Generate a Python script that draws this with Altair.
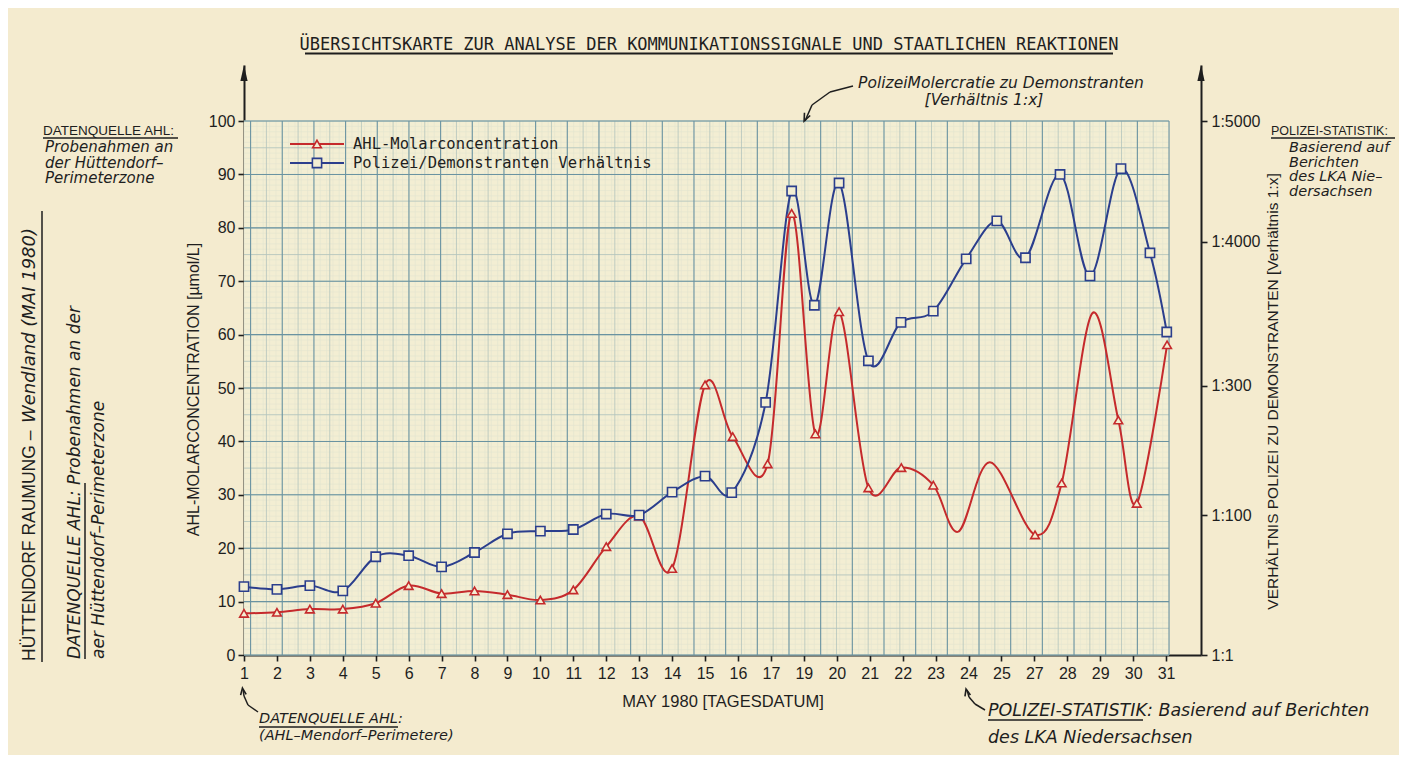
import altair as alt
import pandas as pd

# ---------------- data ----------------
X_LABELS = ['1', '2', '3', '4', '5', '6', '7', '8', '9', '10', '11', '12', '13', '14', '15', '16', '17',
            '19', '20', '21', '22', '23', '24', '25', '27', '28', '29', '30', '31']
Y_TICKS = [0, 10, 20, 30, 40, 50, 60, 70, 80, 90, 100]
R_TICK_POS = [0, 26.2, 50.4, 77.4, 100]
R_TICK_LABELS = ['1:1', '1:100', '1:300', '1:4000', '1:5000']

SERIES = ['AHL-Molarconcentration', 'Polizei/Demonstranten Verhältnis']

# x position on the day axis (index of tick), value in axis units
RED_POS = [0, 1, 2, 3, 4, 5, 6, 7, 8, 9, 10, 11, 12, 13, 14,
           14.84, 15.9, 16.63, 17.35, 18.07, 18.96, 19.96, 20.93,
           21.69, 22.65, 24.02, 24.83, 25.76, 26.55, 27.11, 28.03]
RED_VAL = [7.8, 8.0, 8.6, 8.6, 9.7, 13.0, 11.5, 12.0, 11.3, 10.3, 12.2, 20.3, 26.0, 16.2, 50.6,
           40.9, 35.8, 82.7, 41.4, 64.3, 31.3, 35.1, 31.8,
           23.1, 36.1, 22.5, 32.2, 64.0, 44.0, 28.4, 58.1]
RED_MARK = [1] * 23 + [0, 0, 1, 1, 0, 1, 1, 1]

BLUE_POS = [0, 1, 2, 3, 4, 5, 6, 7, 8, 9, 10, 11, 12, 13, 14,
            14.81, 15.84, 16.63, 17.32, 18.07, 18.96, 19.95, 20.93,
            21.93, 22.86, 23.73, 24.78, 25.69, 26.63, 27.51, 28.02]
BLUE_VAL = [12.8, 12.3, 13.0, 12.0, 18.4, 18.6, 16.5, 19.2, 22.7, 23.2, 23.5, 26.4, 26.2, 30.5, 33.5,
            30.4, 47.3, 86.9, 65.5, 88.4, 55.1, 62.3, 64.4,
            74.2, 81.3, 74.4, 90.0, 71.0, 91.1, 75.3, 60.5]

TITLE = 'ÜBERSICHTSKARTE ZUR ANALYSE DER KOMMUNIKATIONSSIGNALE UND STAATLICHEN REAKTIONEN'
X_TITLE = 'MAY 1980 [TAGESDATUM]'
Y_TITLE = 'AHL-MOLARCONCENTRATION [µmol/L]'
R_TITLE = 'VERHÄLTNIS POLIZEI ZU DEMONSTRANTEN [Verhältnis 1:x]'
NOTE_TOP = ['PolizeiMolercratie zu Demonstranten', '[Verhältnis 1:x]']
NOTE_TL_HEAD = 'DATENQUELLE AHL:'
NOTE_TL = ['Probenahmen an', 'der Hüttendorf–', 'Perimeterzone']
NOTE_V1 = ['HÜTTENDORF RAUMUNG – ', 'Wendland (MAI 1980)']
NOTE_V2 = ['DATENQUELLE AHL: Probenahmen an der', 'aer Hüttendorf–Perimeterzone']
NOTE_R_HEAD = 'POLIZEI-STATISTIK:'
NOTE_R = ['Basierend auf', 'Berichten', 'des LKA Nie–', 'dersachsen']
NOTE_BL = ['DATENQUELLE AHL:', '(AHL–Mendorf–Perimetere)']
NOTE_BR = ['POLIZEI-STATISTIK: Basierend auf Berichten', 'des LKA Niedersachsen']

# ---------------- style ----------------
PAPER = '#f4ebcf'
GRIDBG = '#f3eed3'
INK = '#1e1e1e'
RED = '#c52a2c'
BLUE = '#2b3e8d'
SANS = 'Liberation Sans'
MONO = 'DejaVu Sans Mono'
HAND = 'DejaVu Sans'

W, H = 957, 590
X_MAX, Y_MAX = 29.06, 110.5
xs = alt.Scale(domain=[0, X_MAX], nice=False, zero=False)
ys = alt.Scale(domain=[0, Y_MAX], nice=False, zero=False)


def px(v):
    return v / X_MAX * W


def py(v):
    return H - v / Y_MAX * H


GRID_R, GRID_T = 28.09, 100

one = pd.DataFrame({'k': [0]})


def T(s, x, y, size, font=HAND, style='normal', angle=0, align='left', baseline='alphabetic', color=INK):
    return alt.Chart(one).mark_text(text=s, font=font, fontSize=size, fontStyle=style, angle=angle,
                                    align=align, baseline=baseline, color=color).encode(
        x=alt.value(x), y=alt.value(y))


def R(x1, y1, x2, y2, w=1.5, color=INK):
    return alt.Chart(one).mark_rule(color=color, strokeWidth=w).encode(
        x=alt.value(x1), y=alt.value(y1), x2=alt.value(x2), y2=alt.value(y2))


def HEAD(x, y, angle, size=64):
    return alt.Chart(one).mark_point(shape='M-0.7,0.7L0,-1L0.7,0.7', filled=False, color=INK,
                                     strokeWidth=1.6, size=size, angle=angle, opacity=1).encode(
        x=alt.value(x), y=alt.value(y))


def AXHEAD(x, y):
    return alt.Chart(one).mark_point(shape='M-0.45,1L0,-1L0.45,1Z', filled=True, color=INK,
                                     size=256, opacity=1).encode(x=alt.value(x), y=alt.value(y))


def LPT(x, y, shape, color, size):
    return alt.Chart(one).mark_point(shape=shape, filled=True, fill=GRIDBG, stroke=color,
                                     strokeWidth=1.6, size=size, opacity=1).encode(
        x=alt.value(x), y=alt.value(y))


# ---------------- axes ----------------
x_expr = '[' + ','.join("'%s'" % l for l in X_LABELS) + '][datum.value]'
r_expr = ('[' + ','.join("'%s'" % l for l in R_TICK_LABELS) + '][indexof([' +
          ','.join(str(v) for v in R_TICK_POS) + '], datum.value)]')

x_axis = alt.Axis(orient='bottom', values=list(range(len(X_LABELS))), labelExpr=x_expr, grid=False,
                  labelFlush=False, labelOverlap=False,
                  labelFontSize=16, labelPadding=4, tickSize=6,
                  title=X_TITLE, titleFontSize=16.5, titlePadding=12)
y_left = alt.Axis(orient='left', values=Y_TICKS, grid=False, labelFlush=False, labelOverlap=False,
                  labelFontSize=16, labelPadding=3, tickSize=6,
                  title=Y_TITLE, titleFontSize=16, titleAngle=270, titleX=-51, titleY=324,
                  titleBaseline='middle', titleAlign='center')
y_right = alt.Axis(orient='right', values=R_TICK_POS, labelExpr=r_expr, grid=False,
                   labelFlush=False, labelOverlap=False,
                   labelFontSize=16, labelPadding=4, tickSize=6,
                   title=R_TITLE, titleFontSize=15.5, titleAngle=270, titleX=71, titleY=326,
                   titleBaseline='middle', titleAlign='center')

# ---------------- graph paper ----------------
grid_bg = alt.Chart(one).mark_rect(color=GRIDBG).encode(
    x=alt.value(0), x2=alt.value(px(GRID_R)), y=alt.value(py(GRID_T)), y2=alt.value(H))


def hgrid(step, color, w):
    return alt.Chart(alt.sequence(0, 100.01, step, as_='v')).mark_rule(color=color, strokeWidth=w).encode(
        y=alt.Y('v:Q', scale=ys, axis=None),
        x=alt.value(0), x2=alt.value(px(GRID_R)))


def vgrid(start, step, color, w, axis=None):
    return alt.Chart(alt.sequence(start, 28.1, step, as_='v')).mark_rule(color=color, strokeWidth=w).encode(
        x=alt.X('v:Q', scale=xs, axis=axis),
        y=alt.value(py(GRID_T)), y2=alt.value(H))


MAJ = '#6a93a1'
MID = '#b3c4bc'
MIN = '#e2e4d0'
grid_layers = [
    hgrid(1, MIN, 0.6), vgrid(0.00766, 0.19234, MIN, 0.6, axis=x_axis),
    hgrid(5, MID, 0.8), vgrid(0.68085, 0.9617, MID, 0.8),
    hgrid(10, MAJ, 1.1), vgrid(0.2, 0.9617, MAJ, 1.1),
]

# ---------------- series ----------------
red_df = pd.DataFrame({'pos': RED_POS, 'val': RED_VAL, 'mark': RED_MARK, 'series': SERIES[0]})
blue_df = pd.DataFrame({'pos': BLUE_POS, 'val': BLUE_VAL, 'series': SERIES[1]})

red_line = alt.Chart(red_df).mark_line(interpolate='cardinal', color=RED, strokeWidth=2).encode(
    x=alt.X('pos:Q', scale=xs, axis=None), y=alt.Y('val:Q', scale=ys, axis=y_left))
blue_line = alt.Chart(blue_df).mark_line(interpolate='cardinal', color=BLUE, strokeWidth=2).encode(
    x=alt.X('pos:Q', scale=xs, axis=None), y=alt.Y('val:Q', scale=ys, axis=y_right))
red_pts = alt.Chart(red_df).transform_filter('datum.mark == 1').mark_point(
    shape='triangle-up', size=75, filled=True, fill=GRIDBG, stroke=RED, strokeWidth=1.6, opacity=1).encode(
    x=alt.X('pos:Q', scale=xs, axis=None), y=alt.Y('val:Q', scale=ys, axis=None))
blue_pts = alt.Chart(blue_df).mark_point(
    shape='square', size=85, filled=True, fill=GRIDBG, stroke=BLUE, strokeWidth=1.6, opacity=1).encode(
    x=alt.X('pos:Q', scale=xs, axis=None), y=alt.Y('val:Q', scale=ys, axis=None))

# ---------------- legend ----------------
legend = [
    R(46, 79, 100, 79, 2, RED), LPT(73, 79, 'triangle-up', RED, 75),
    T(SERIES[0], 109, 79, 15.5, font=MONO, baseline='middle'),
    R(46, 98, 100, 98, 2, BLUE), LPT(73, 98, 'square', BLUE, 85),
    T(SERIES[1], 109, 98, 15.5, font=MONO, baseline='middle'),
]

# ---------------- annotations (pixel offsets from plot origin) ----------------
notes = [
    # title
    T(TITLE, 465, -15, 17, font=MONO, align='center'),
    R(61, -11.5, 869, -11.5, 2),
    # axis arrows
    AXHEAD(0, 8), AXHEAD(W, 8),
    # top annotation
    T(NOTE_TOP[0], 757, 23, 15.5, style='italic', align='center'),
    T(NOTE_TOP[1], 740, 40, 15.5, style='italic', align='center'),
    R(609, 21, 586, 27), R(586, 27, 568, 40), R(568, 40, 561, 56),
    HEAD(562, 52, 205, 81),
    # top-left
    T(NOTE_TL_HEAD, -201, 70, 13.5, font=SANS),
    R(-201, 73, -66, 73, 1.3),
    T(NOTE_TL[0], -199, 87, 15, style='italic'),
    T(NOTE_TL[1], -199, 102.5, 15, style='italic'),
    T(NOTE_TL[2], -199, 118, 15, style='italic'),
    # vertical left texts
    T(NOTE_V1[0], -209, 596, 17.5, font=SANS, angle=270),
    T(NOTE_V1[1], -209, 358, 18, style='italic', angle=270),
    R(-202, 597, -202, 146, 1.5),
    T(NOTE_V2[0], -164, 594, 17, style='italic', angle=270),
    R(-159, 594, -159, 418, 1.5),
    T(NOTE_V2[1], -140, 594, 17, style='italic', angle=270),
    # right side
    T(NOTE_R_HEAD, 1027, 70, 12.5, font=SANS),
    R(1027, 73, 1151, 73, 1.3),
    T(NOTE_R[0], 1045, 87, 14.5, style='italic'),
    T(NOTE_R[1], 1045, 101.5, 14.5, style='italic'),
    T(NOTE_R[2], 1045, 116, 14.5, style='italic'),
    T(NOTE_R[3], 1045, 130.5, 14.5, style='italic'),
    # bottom-left
    R(14, 647, 4, 640), R(4, 640, 0, 631), R(0, 631, -1, 624),
    HEAD(-1, 627, 352),
    T(NOTE_BL[0], 15, 658, 14.5, style='italic'),
    R(15, 662, 154, 662, 1.3),
    T(NOTE_BL[1], 15, 675, 14.5, style='italic'),
    # bottom-right
    R(741, 645, 731, 639), R(731, 639, 725, 632), R(725, 632, 723, 625),
    HEAD(723, 628, 346),
    T(NOTE_BR[0], 744, 651, 17.5, style='italic'),
    R(744, 655, 899, 655, 1.3),
    T(NOTE_BR[1], 744, 678, 17.5, style='italic'),
]

layers = [grid_bg] + grid_layers + [red_line, blue_line, red_pts, blue_pts] + legend + notes

chart = alt.layer(*layers).resolve_axis(x='independent', y='independent').properties(
    width=W, height=H,
    autosize=alt.AutoSizeParams(type='none'),
    padding={'left': 236, 'top': 57, 'right': 198, 'bottom': 100},
    background=PAPER,
).configure_view(stroke=None).configure_axis(
    labelFont=SANS, titleFont=SANS, labelColor=INK, titleColor=INK, titleFontWeight='normal',
    domainColor=INK, tickColor=INK, domainWidth=2, tickWidth=1.6,
)

chart.save('out.html', embed_options={'renderer': 'svg', 'actions': False})
